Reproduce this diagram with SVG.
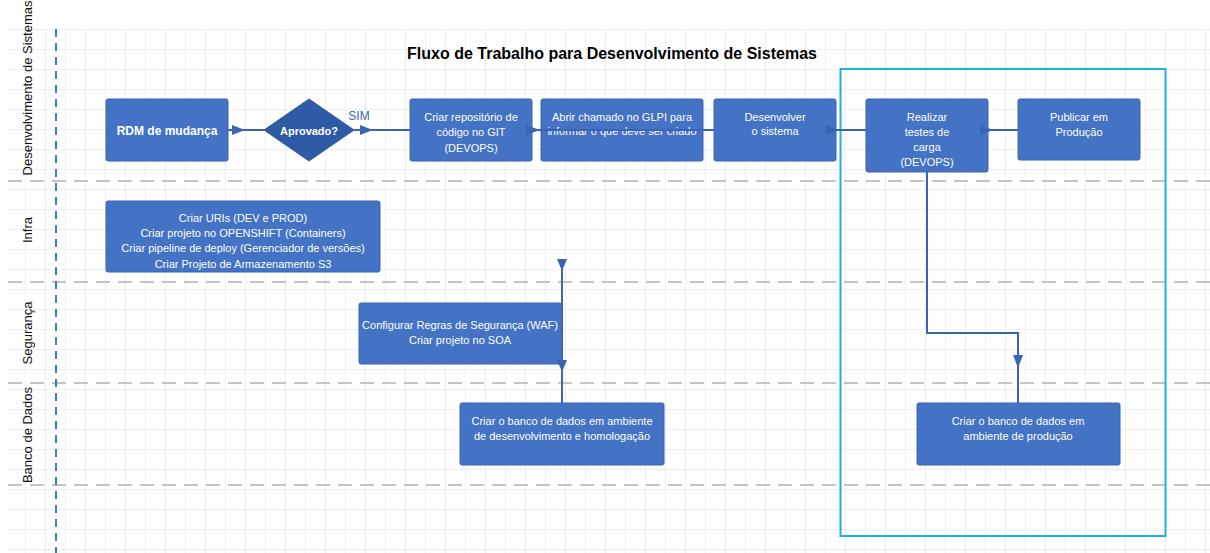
<svg xmlns="http://www.w3.org/2000/svg" width="1210" height="553" viewBox="0 0 1210 553">
<defs>
<pattern id="grid" patternUnits="userSpaceOnUse" x="5" y="9" width="20" height="20">
<path d="M0 0.5 H20 M0.5 0 V20" stroke="#efefef" stroke-width="1" fill="none"/>
</pattern>
<style>
.node{fill:#4472c4;stroke:#3b64b0;stroke-width:1}
.dia{fill:#2f5aa5;stroke:#2f5aa5}
.t{font-family:"Liberation Sans",Arial,sans-serif;font-size:11px;fill:#ffffff;text-anchor:middle;dominant-baseline:central}
.tb{font-weight:bold;font-size:12px}
.lane{font-family:"Liberation Sans",Arial,sans-serif;font-size:13px;fill:#111;text-anchor:middle;dominant-baseline:central}
.sep{stroke:#c4c4c4;stroke-width:2;stroke-dasharray:14 8;fill:none}
.c{stroke:#3c64b4;stroke-width:2;fill:none}
.ah{fill:#3c64b4}
</style>
</defs>
<rect width="1210" height="553" fill="#ffffff"/>
<rect x="8" y="29" width="1202" height="524" fill="url(#grid)"/>
<g id="lanes">
<line class="sep" x1="8" y1="181" x2="1210" y2="181"/>
<line class="sep" x1="8" y1="282" x2="1210" y2="282"/>
<line class="sep" x1="8" y1="383" x2="1210" y2="383"/>
<line class="sep" x1="8" y1="485" x2="1210" y2="485"/>
<line x1="56" y1="29" x2="56" y2="553" stroke="#3a7fba" stroke-width="2" stroke-dasharray="8 6"/>
<text class="lane" transform="translate(27 88) rotate(-90)">Desenvolvimento de Sistemas</text>
<text class="lane" transform="translate(27 230) rotate(-90)">Infra</text>
<text class="lane" transform="translate(27 333) rotate(-90)">Segurança</text>
<text class="lane" transform="translate(27 435) rotate(-90)">Banco de Dados</text>
</g>
<text x="612" y="53" font-family="'Liberation Sans',Arial,sans-serif" font-size="16" font-weight="bold" fill="#000" text-anchor="middle" dominant-baseline="central">Fluxo de Trabalho para Desenvolvimento de Sistemas</text>
<rect id="highlight" x="840.5" y="69" width="325" height="467" fill="none" stroke="#1ab0ec" stroke-width="2"/>
<g id="n-rdm"><rect class="node" x="106" y="99" width="122" height="62" rx="2"/><text class="t tb" x="167" y="131">RDM de mudança</text></g>
<g id="n-aprovado"><polygon class="dia" points="309,99 354,130 309,161 264,130"/><text class="t tb" x="309" y="131" style="font-size:11px">Aprovado?</text></g>
<g id="n-repo"><rect class="node" x="410" y="99" width="122" height="62" rx="2"/><text class="t" x="471" y="117">Criar repositório de</text><text class="t" x="471" y="132">código no GIT</text><text class="t" x="471" y="148">(DEVOPS)</text></g>
<g id="n-glpi"><rect class="node" x="541" y="99" width="162" height="62" rx="2"/><text class="t" x="622" y="117">Abrir chamado no GLPI para</text><text class="t" x="622" y="131">informar o que deve ser criado</text></g>
<g id="n-dev"><rect class="node" x="714" y="99" width="122" height="62" rx="2"/><text class="t" x="775" y="117">Desenvolver</text><text class="t" x="775" y="131">o sistema</text></g>
<g id="n-testes"><rect class="node" x="866" y="99" width="122" height="73" rx="2"/><text class="t" x="927" y="117">Realizar</text><text class="t" x="927" y="132">testes de</text><text class="t" x="927" y="147">carga</text><text class="t" x="927" y="162">(DEVOPS)</text></g>
<g id="n-publicar"><rect class="node" x="1018" y="99" width="122" height="61" rx="2"/><text class="t" x="1079" y="117">Publicar em</text><text class="t" x="1079" y="132">Produção</text></g>
<g id="n-infra"><rect class="node" x="106" y="201" width="274" height="71" rx="2"/><text class="t" x="243" y="218">Criar URIs (DEV e PROD)</text><text class="t" x="243" y="233">Criar projeto no OPENSHIFT (Containers)</text><text class="t" x="243" y="248">Criar pipeline de deploy (Gerenciador de versões)</text><text class="t" x="243" y="264">Criar Projeto de Armazenamento S3</text></g>
<g id="n-seg"><rect class="node" x="359" y="303" width="203" height="61" rx="2"/><text class="t" x="460" y="325">Configurar Regras de Segurança (WAF)</text><text class="t" x="460" y="340">Criar projeto no SOA</text></g>
<g id="n-bddev"><rect class="node" x="460" y="403" width="204" height="62" rx="2"/><text class="t" x="562" y="421">Criar o banco de dados em ambiente</text><text class="t" x="562" y="436">de desenvolvimento e homologação</text></g>
<g id="n-bdprod"><rect class="node" x="917" y="403" width="203" height="62" rx="2"/><text class="t" x="1018" y="421">Criar o banco de dados em</text><text class="t" x="1018" y="436">ambiente de produção</text></g>
<g id="connectors">
<line class="c" x1="228" y1="130" x2="264" y2="130"/>
<polygon class="ah" points="232,125 245,130 232,135"/>
<line class="c" x1="354" y1="130" x2="410" y2="130"/>
<polygon class="ah" points="360,125 373,130 360,135"/>
<text x="359" y="116" font-family="'Liberation Sans',Arial,sans-serif" font-size="12" fill="#3c64b4" text-anchor="middle" dominant-baseline="central">SIM</text>
<line class="c" x1="532" y1="130" x2="714" y2="130"/>
<polygon class="ah" points="526,125 540,130 526,135"/>
<line class="c" x1="836" y1="130" x2="866" y2="130"/>
<polygon class="ah" points="826,125 839,130 826,135"/>
<line class="c" x1="988" y1="130" x2="1018" y2="130"/>
<polygon class="ah" points="980,125 993,130 980,135"/>
<line class="c" x1="562" y1="260" x2="562" y2="403"/>
<polygon class="ah" points="557,259 567,259 562,271"/>
<polygon class="ah" points="557,360 567,360 562,372"/>
<path class="c" d="M927 172 V333 H1018 V403"/>
<polygon class="ah" points="1013,355 1023,355 1018,368"/>
</g>
</svg>
